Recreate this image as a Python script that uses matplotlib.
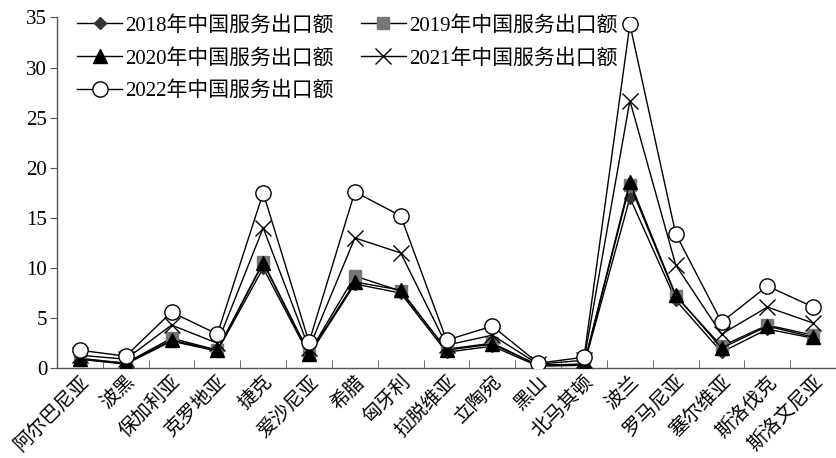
import matplotlib
matplotlib.use("Agg")
import matplotlib.pyplot as plt
import numpy as np

plt.rcParams['font.family'] = ['Liberation Serif', 'Noto Sans CJK SC']

countries = ['阿尔巴尼亚', '波黑', '保加利亚', '克罗地亚', '捷克', '爱沙尼亚', '希腊',
             '匈牙利', '拉脱维亚', '立陶宛', '黑山', '北马其顿', '波兰', '罗马尼亚',
             '塞尔维亚', '斯洛伐克', '斯洛文尼亚']

exports_2018 = [0.9, 0.4, 2.7, 1.7, 10.0, 1.3, 8.4, 7.5, 1.6, 2.2, 0.2, 0.3, 17.0, 6.8, 1.6, 3.9, 3.0]
exports_2019 = [1.0, 0.5, 3.0, 1.8, 10.6, 1.5, 9.2, 7.7, 1.9, 2.5, 0.3, 0.4, 18.3, 7.2, 2.2, 4.3, 3.3]
exports_2020 = [0.9, 0.5, 2.8, 1.8, 10.5, 1.4, 8.6, 7.8, 1.8, 2.4, 0.3, 0.4, 18.6, 7.3, 2.0, 4.2, 3.1]
exports_2021 = [1.3, 0.9, 4.3, 2.5, 14.0, 2.0, 13.0, 11.5, 2.3, 3.3, 0.4, 0.8, 26.7, 10.3, 3.4, 6.1, 4.5]
exports_2022 = [1.8, 1.2, 5.6, 3.4, 17.5, 2.6, 17.6, 15.2, 2.8, 4.2, 0.5, 1.1, 34.3, 13.4, 4.6, 8.2, 6.1]

yticks = [0, 5, 10, 15, 20, 25, 30, 35]

fig = plt.figure(figsize=(8.37, 4.58), dpi=100)
ax = fig.add_axes((0.068, 0.196, 0.931, 0.766))

x = np.arange(len(countries))
lw = 1.0
h18, = ax.plot(x, exports_2018, color='black', lw=lw, marker='D', ms=6,
               mfc='#333333', mec='#333333', zorder=3, label='2018年中国服务出口额')
h19, = ax.plot(x, exports_2019, color='black', lw=lw, marker='s', ms=9,
               mfc='#777777', mec='#777777', zorder=4, label='2019年中国服务出口额')
h20, = ax.plot(x, exports_2020, color='black', lw=lw, marker='^', ms=10,
               mfc='black', mec='black', zorder=5, label='2020年中国服务出口额')
h21, = ax.plot(x, exports_2021, color='black', lw=lw, marker='x', ms=11,
               mew=1.0, mec='black', zorder=6, label='2021年中国服务出口额')
h22, = ax.plot(x, exports_2022, color='black', lw=lw, marker='o', ms=11,
               mfc='white', mec='black', mew=1.0, zorder=7, label='2022年中国服务出口额')

ax.set_xlim(-0.5, len(countries) - 0.5)
ax.set_ylim(0, 35)

ax.set_xticks(x)
ax.set_xticklabels(countries, rotation=45, ha='right', va='top',
                   rotation_mode='anchor', fontsize=14)
ax.tick_params(axis='x', which='major', length=0, pad=3)
ax.set_xticks(np.arange(0.5, len(countries) - 0.5, 1.0), minor=True)
ax.tick_params(axis='x', which='minor', direction='in', length=6, color='#555555')

ax.set_yticks(yticks)
ax.set_yticklabels([str(v) for v in yticks], fontsize=15)
ax.tick_params(axis='y', direction='out', length=5, color='#555555', pad=2)

for side in ['top', 'right']:
    ax.spines[side].set_visible(False)
for side in ['left', 'bottom']:
    ax.spines[side].set_color('#555555')
    ax.spines[side].set_linewidth(1.0)

leg = ax.legend(handles=[h18, h20, h22, h19, h21], ncol=2, loc='upper left',
                bbox_to_anchor=(0.01, 1.04), frameon=False, fontsize=15,
                handlelength=2.15, handletextpad=0.15, columnspacing=1.3,
                labelspacing=0.62, borderaxespad=0.2)

fig.savefig('out.png', dpi=100)
